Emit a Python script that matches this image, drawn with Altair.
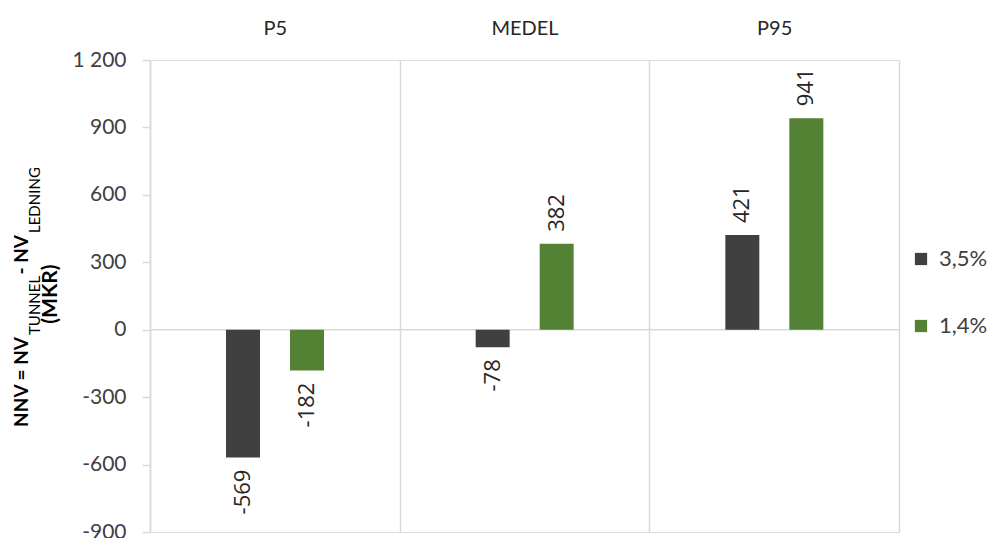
import altair as alt
import pandas as pd

categories = ["P5", "MEDEL", "P95"]
series = ["3,5%", "1,4%"]
values_35 = [-569, -78, 421]
values_14 = [-182, 382, 941]
y_ticks = [-900, -600, -300, 0, 300, 600, 900, 1200]
colors = ["#404040", "#548235"]

rows = []
for c, a, b in zip(categories, values_35, values_14):
    rows.append({"kategori": c, "serie": series[0], "varde": a})
    rows.append({"kategori": c, "serie": series[1], "varde": b})
df = pd.DataFrame(rows)

FONT = "Lato"
GRID = "#d9d9d9"

x_enc = alt.X(
    "kategori:N", sort=categories,
    scale=alt.Scale(paddingInner=0, paddingOuter=0),
    axis=alt.Axis(orient="top", title=None, domain=False, ticks=False, grid=True,
                  tickBand="extent", gridColor=GRID, gridWidth=1.5, labelAngle=0,
                  labelFont=FONT, labelFontSize=20, labelColor="#262626", labelPadding=22),
)
xoff = alt.XOffset("serie:N", sort=series,
                   scale=alt.Scale(range=[76, 174], paddingInner=0.469, paddingOuter=0))
y_scale = alt.Scale(domain=[-900, 1200], nice=False, zero=False)
y_enc = alt.Y(
    "varde:Q", scale=y_scale,
    axis=alt.Axis(title=None, values=y_ticks, grid=False, domainColor=GRID, domainWidth=1.5,
                  tickColor=GRID, tickSize=8, tickWidth=1.5, labelFont=FONT, labelFontSize=21,
                  labelColor="#404040", labelPadding=16,
                  labelExpr="datum.value >= 1000 ? floor(datum.value/1000) + ' ' + format(datum.value % 1000, '03') : '' + datum.value"),
)
color_enc = alt.Color(
    "serie:N", sort=series, scale=alt.Scale(domain=series, range=colors),
    legend=alt.Legend(orient="none", legendX=760, legendY=188, title=None, symbolType="square",
                      symbolSize=150, symbolStrokeWidth=0, labelFont=FONT, labelFontSize=22,
                      labelColor="#404040", rowPadding=45, labelOffset=7),
)

base = alt.Chart(df).transform_calculate(etikett="'' + datum.varde")

bars = base.mark_bar().encode(x=x_enc, xOffset=xoff, y=y_enc, color=color_enc)

lbl_style = dict(angle=270, baseline="middle", font="Open Sans", fontSize=22, color="#262626")
pos = base.transform_filter("datum.varde >= 0").mark_text(align="left", dx=12, **lbl_style).encode(
    x=x_enc, xOffset=xoff, y=y_enc, text="etikett:N")
neg = base.transform_filter("datum.varde < 0").mark_text(align="right", dx=-12, **lbl_style).encode(
    x=x_enc, xOffset=xoff, y=y_enc, text="etikett:N")

zero = alt.Chart(pd.DataFrame({"z": [0]})).mark_rule(color=GRID, strokeWidth=1.5).encode(
    y=alt.Y("z:Q", scale=y_scale))

dummy = pd.DataFrame({"a": [0]})
def ttl(txt, x, y, align, size, weight="bold"):
    return alt.Chart(dummy).mark_text(text=txt, angle=270, align=align, baseline="middle",
                                      font=FONT, fontSize=size, fontWeight=weight,
                                      color="#000000").encode(x=alt.value(x), y=alt.value(y))

title_layers = [
    ttl("NNV = NV", -128, 277, "right", 19),
    ttl("TUNNEL", -115, 275, "left", 15, "normal"),
    ttl(" - NV", -128, 175, "right", 19),
    ttl("LEDNING", -115, 173, "left", 15, "normal"),
    ttl("(MKR)", -99, 234, "center", 21),
]

chart = alt.layer(zero, bars, pos, neg, *title_layers).properties(
    width=749, height=472,
    autosize=alt.AutoSizeParams(type="none"),
    padding={"left": 150, "top": 60, "right": 108, "bottom": 6},
).configure_view(stroke=None).configure(background="white")

chart.save("out.html", embed_options={"renderer": "svg", "actions": False})
